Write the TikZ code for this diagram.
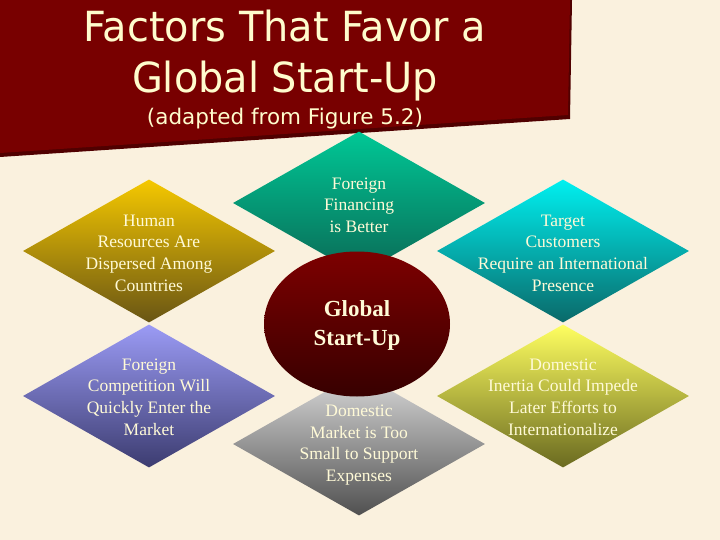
\documentclass[tikz,border=0pt]{standalone}
\usepackage{fontspec}
\setmainfont{Liberation Serif}
\newfontfamily\titlefont[FakeStretch=0.96]{DejaVu Sans}
\newfontfamily\subfont{DejaVu Sans}
\usetikzlibrary{shapes.geometric}
\definecolor{bg}{RGB}{250,241,222}
\definecolor{titlered}{RGB}{120,0,0}
\definecolor{titleshadow}{RGB}{80,0,0}
\definecolor{cream}{RGB}{255,250,215}
\definecolor{titlecream}{RGB}{255,252,205}
\tikzset{
  dia/.style={diamond, draw=none, inner sep=0pt, minimum width=252pt, minimum height=143pt},
  dtext/.style={text=cream, align=center, inner sep=0pt, font=\fontsize{17.5}{21.7}\selectfont},
  ttext/.style={text=titlecream, inner sep=0pt, anchor=base},
}
\begin{document}
\begin{tikzpicture}[x=1pt,y=-1pt]
\useasboundingbox (0,0) rectangle (720,540);
\fill[bg] (0,0) rectangle (720,540);
% title box
\fill[titleshadow] (0,0) -- (572,0) -- (570,119) -- (0,157) -- cycle;
\fill[titlered] (0,0) -- (570,0) -- (568,115) -- (0,153) -- cycle;
\node[ttext, font=\titlefont\fontsize{41.5}{48}\selectfont] (t1) at (285,42) {Factors That Favor a};
\node[ttext, font=\titlefont\fontsize{41.5}{48}\selectfont] (t2) at (285,93) {Global Start-Up};
\node[ttext, font=\subfont\fontsize{21.5}{26}\selectfont] (t3) at (285,125) {(adapted from Figure 5.2)};
% diamonds
\node[dia, top color={rgb,255:red,245;green,200;blue,0}, bottom color={rgb,255:red,105;green,85;blue,20}] (hr) at (149,251) {};
\node[dia, top color={rgb,255:red,155;green,155;blue,245}, bottom color={rgb,255:red,60;green,60;blue,112}] (fc) at (149,396) {};
\node[dia, top color={rgb,255:red,0;green,200;blue,150}, bottom color={rgb,255:red,10;green,105;blue,85}] (ff) at (359,203) {};
\node[dia, top color={rgb,255:red,218;green,218;blue,218}, bottom color={rgb,255:red,80;green,80;blue,80}] (dm) at (359,444) {};
\node[dia, top color={rgb,255:red,0;green,240;blue,240}, bottom color={rgb,255:red,10;green,105;blue,105}] (tc) at (563,251) {};
\node[dia, top color={rgb,255:red,255;green,255;blue,96}, bottom color={rgb,255:red,106;green,106;blue,32}] (di) at (563,396) {};
% center ellipse
\node[ellipse, draw=none, minimum width=186pt, minimum height=145pt, top color={rgb,255:red,125;green,0;blue,0}, bottom color={rgb,255:red,55;green,0;blue,0}] (gs) at (357,324) {};
% texts
\node[dtext] (hrt) at (149,253) {Human\\Resources Are\\Dispersed Among\\Countries};
\node[dtext] (fct) at (149,397) {Foreign\\Competition Will\\Quickly Enter the\\Market};
\node[dtext] (fft) at (359,205) {Foreign\\Financing\\is Better};
\node[dtext] (dmt) at (359,445) {Domestic\\Market is Too\\Small to Support\\Expenses};
\node[dtext] (tct) at (563,253) {Target\\Customers\\Require an International\\Presence};
\node[dtext] (dit) at (563,397) {Domestic\\Inertia Could Impede\\Later Efforts to\\Internationalize};
\node[text=cream, align=center, inner sep=0pt, font=\bfseries\fontsize{23}{29}\selectfont] (gst) at (357,325) {Global\\Start-Up};
\end{tikzpicture}
\end{document}
